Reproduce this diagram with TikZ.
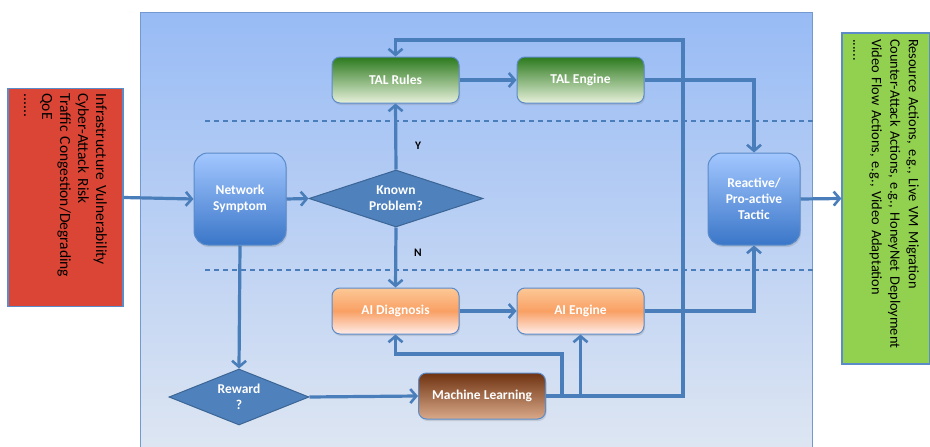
\documentclass[tikz,border=0pt]{standalone}
\usepackage{fontspec}
\setmainfont{Carlito}
\usetikzlibrary{shapes.geometric,arrows.meta,shadows}
\definecolor{arrblue}{RGB}{74,126,187}
\definecolor{panelTop}{RGB}{152,187,245}
\definecolor{panelBot}{RGB}{222,230,242}
\definecolor{panelBorder}{RGB}{115,153,207}
\definecolor{boxBorder}{RGB}{91,139,201}
\definecolor{redFill}{RGB}{219,69,53}
\definecolor{greenFill}{RGB}{146,208,80}
\definecolor{talTop}{RGB}{44,122,30}
\definecolor{talBot}{RGB}{230,240,218}
\definecolor{aiTop}{RGB}{252,200,150}
\definecolor{aiMid}{RGB}{249,160,100}
\definecolor{aiBot}{RGB}{254,236,234}
\definecolor{mlTop}{RGB}{110,50,16}
\definecolor{mlBot}{RGB}{217,169,138}
\definecolor{nsTop}{RGB}{163,199,255}
\definecolor{nsBot}{RGB}{58,118,200}
\definecolor{diaFill}{RGB}{79,129,189}
\definecolor{diaBorder}{RGB}{59,101,149}
\tikzset{
  arr/.style={draw=arrblue, line width=3.2pt, -{Straight Barb[length=6pt,width=14pt,line width=2.6pt]}},
  sepline/.style={draw=arrblue, line width=1.1pt, dash pattern=on 5pt off 4pt},
  boxlabel/.style={text=white, font={\bfseries\fontsize{13.5}{16}\selectfont}, align=center},
  softshadow/.style={drop shadow={opacity=0.25, shadow xshift=1pt, shadow yshift=-2pt}},
  flatbox/.style={boxlabel, draw=boxBorder, line width=1pt, rounded corners=8pt, minimum width=127pt, minimum height=46pt, softshadow},
  talbox/.style={flatbox, top color=talTop, bottom color=talBot},
  aibox/.style={flatbox, top color=aiTop, bottom color=aiBot, middle color=aiMid},
  mlbox/.style={flatbox, top color=mlTop, bottom color=mlBot},
  tallbox/.style={boxlabel, draw=boxBorder, line width=1pt, rounded corners=14pt, minimum width=92pt, minimum height=92pt, top color=nsTop, bottom color=nsBot, softshadow},
  decision/.style={boxlabel, diamond, draw=diaBorder, line width=1pt, fill=diaFill, inner sep=0pt},
  sidebox/.style={draw=boxBorder, line width=1.2pt, rotate=-90, align=left, inner ysep=0pt},
  yn/.style={font={\bfseries\fontsize{11.5}{13}\selectfont}, text=black}
}
\begin{document}
\begin{tikzpicture}[x=1pt,y=-1pt]
\useasboundingbox (0,0) rectangle (930,447);
% background panel
\shade[top color=panelTop, bottom color=panelBot] (140,12) rectangle (812,452);
\draw[panelBorder, line width=1pt] (140,452) -- (140,12) -- (812,12) -- (812,452);
% separators
\draw[sepline] (205,121) -- (815,121);
\draw[sepline] (205,270) -- (815,270);
% side boxes
\node[sidebox, fill=redFill, minimum width=218pt, minimum height=115pt, inner xsep=5pt, text width=208pt, font={\fontsize{15.5}{18}\selectfont}] (input) at (65.5,197.5)
  {Infrastructure Vulnerability\\Cyber-Attack Risk\\Traffic Congestion/Degrading\\QoE\\......};
\node[sidebox, fill=greenFill, minimum width=331pt, minimum height=88pt, inner xsep=6pt, text width=319pt, font={\fontsize{14.4}{18.5}\selectfont}] (output) at (886,198.5)
  {Resource Actions, e.g., Live VM Migration\\Counter-Attack Actions, e.g., HoneyNet Deployment\\Video Flow Actions, e.g., Video Adaptation\\......};
% main nodes
\node[talbox] (talr) at (395.5,80) {TAL Rules};
\node[talbox] (tale) at (580.5,80) {TAL Engine};
\node[tallbox] (netsym) at (240,199) {Network\\Symptom};
\node[decision, aspect=3, minimum width=174pt, minimum height=57pt] (known) at (396,198.5) {Known\\Problem?};
\node[tallbox] (tactic) at (754,199) {Reactive/\\Pro-active\\Tactic};
\node[aibox] (aid) at (395.5,311) {AI Diagnosis};
\node[aibox] (aie) at (580.5,311) {AI Engine};
\node[decision, aspect=2.5, minimum width=140pt, minimum height=56pt] (rew) at (239,397) {Reward\\?};
\node[mlbox] (ml) at (482,396) {Machine Learning};
% labels
\node[yn] (ylab) at (418,146) {Y};
\node[yn] (nlab) at (418,253) {N};
% bend points
\coordinate (mlA) at (562,354);
\coordinate (loopR) at (683,40);
% connectors
\draw[arr] (input.north) -- (netsym.west);
\draw[arr] (netsym.east) -- (known.west);
\draw[arr] (known.north) -- (talr.south);
\draw[arr] (known.south) -- (aid.north);
\draw[arr] (talr.east) -- (tale.west);
\draw[arr] (tale.east) -| (tactic.north);
\draw[arr] (aid.east) -- (aie.west);
\draw[arr] (aie.east) -| (tactic.south);
\draw[arr] (tactic.east) -- (output.south);
\draw[arr] (netsym.south) -- (rew.north);
\draw[arr] (rew.east) -- (ml.west);
\draw[arr] (ml.east) -| (mlA) -| (aid.south);
\draw[arr] (ml.east) -| (aie.south);
\draw[arr] (ml.east) -| (loopR) -| (talr.north);
\end{tikzpicture}
\end{document}
